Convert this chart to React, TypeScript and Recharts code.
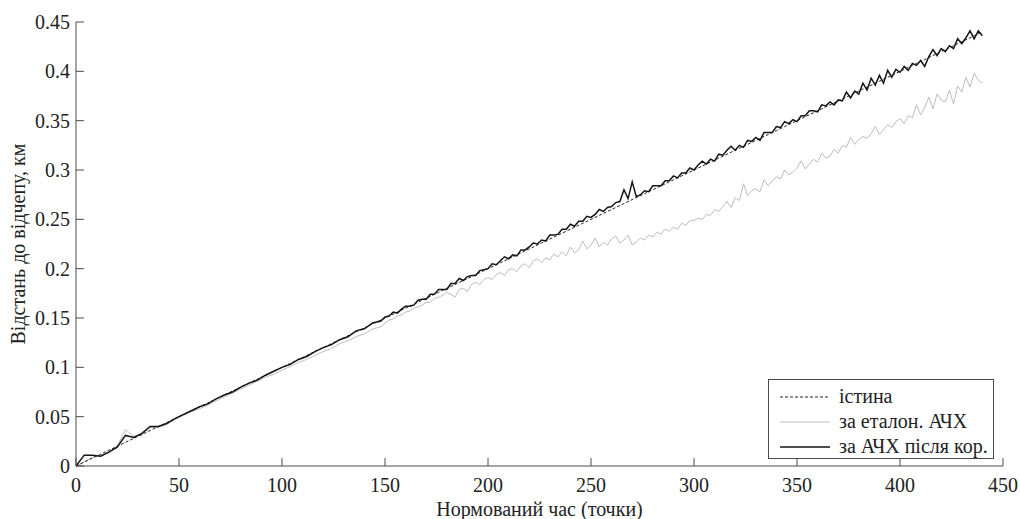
import { Legend, Line, LineChart, XAxis, YAxis, Label } from "recharts";

// normalised time (points): every 4th point at the start, every 2nd point after 150
const xs = [
  0, 4, 8, 12, 16, 20, 24, 28, 32, 36, 40, 44, 48, 52, 56, 60, 64, 68, 72, 76,
  80, 84, 88, 92, 96, 100, 104, 108, 112, 116, 120, 124, 128, 132, 136, 140, 144, 148,
  150, 152, 154, 156, 158, 160, 162, 164, 166, 168,
  170, 172, 174, 176, 178, 180, 182, 184, 186, 188,
  190, 192, 194, 196, 198, 200, 202, 204, 206, 208,
  210, 212, 214, 216, 218, 220, 222, 224, 226, 228,
  230, 232, 234, 236, 238, 240, 242, 244, 246, 248,
  250, 252, 254, 256, 258, 260, 262, 264, 266, 268,
  270, 272, 274, 276, 278, 280, 282, 284, 286, 288,
  290, 292, 294, 296, 298, 300, 302, 304, 306, 308,
  310, 312, 314, 316, 318, 320, 322, 324, 326, 328,
  330, 332, 334, 336, 338, 340, 342, 344, 346, 348,
  350, 352, 354, 356, 358, 360, 362, 364, 366, 368,
  370, 372, 374, 376, 378, 380, 382, 384, 386, 388,
  390, 392, 394, 396, 398, 400, 402, 404, 406, 408,
  410, 412, 414, 416, 418, 420, 422, 424, 426, 428,
  430, 432, 434, 436, 438, 440,
];

// істина
const truth = [
  0, 0.004, 0.008, 0.012, 0.016, 0.02, 0.024, 0.028, 0.032, 0.036, 0.04, 0.044, 0.048, 0.052, 0.056, 0.06, 0.064, 0.068, 0.072, 0.076,
  0.08, 0.084, 0.088, 0.092, 0.096, 0.1, 0.104, 0.108, 0.112, 0.116, 0.12, 0.124, 0.128, 0.132, 0.136, 0.14, 0.144, 0.148,
  0.15, 0.152, 0.154, 0.156, 0.158, 0.16, 0.162, 0.164, 0.166, 0.168,
  0.17, 0.172, 0.174, 0.176, 0.178, 0.18, 0.182, 0.184, 0.186, 0.188,
  0.19, 0.192, 0.194, 0.196, 0.198, 0.2, 0.202, 0.204, 0.206, 0.208,
  0.21, 0.212, 0.214, 0.216, 0.218, 0.22, 0.222, 0.224, 0.226, 0.228,
  0.23, 0.232, 0.234, 0.236, 0.238, 0.24, 0.242, 0.244, 0.246, 0.248,
  0.25, 0.252, 0.254, 0.256, 0.258, 0.26, 0.262, 0.264, 0.266, 0.268,
  0.27, 0.272, 0.274, 0.276, 0.278, 0.28, 0.282, 0.284, 0.286, 0.288,
  0.29, 0.292, 0.294, 0.296, 0.298, 0.3, 0.302, 0.304, 0.306, 0.308,
  0.31, 0.312, 0.314, 0.316, 0.318, 0.32, 0.322, 0.324, 0.326, 0.328,
  0.33, 0.332, 0.334, 0.336, 0.338, 0.34, 0.342, 0.344, 0.346, 0.348,
  0.35, 0.352, 0.354, 0.356, 0.358, 0.36, 0.362, 0.364, 0.366, 0.368,
  0.37, 0.372, 0.374, 0.376, 0.378, 0.38, 0.382, 0.384, 0.386, 0.388,
  0.39, 0.392, 0.394, 0.396, 0.398, 0.4, 0.402, 0.404, 0.406, 0.408,
  0.41, 0.412, 0.414, 0.416, 0.418, 0.42, 0.422, 0.424, 0.426, 0.428,
  0.43, 0.432, 0.434, 0.436, 0.438, 0.44,
];

// за еталон. АЧХ
const etalon = [
  0, 0.004, 0.009, 0.011, 0.014, 0.02, 0.037, 0.03, 0.031, 0.039, 0.039, 0.042, 0.047, 0.051, 0.055, 0.058, 0.062, 0.066, 0.07, 0.074,
  0.078, 0.082, 0.086, 0.09, 0.093, 0.097, 0.101, 0.105, 0.108, 0.112, 0.116, 0.119, 0.124, 0.127, 0.131, 0.134, 0.139, 0.141,
  0.145, 0.148, 0.149, 0.152, 0.153, 0.156, 0.157, 0.16, 0.161, 0.163,
  0.166, 0.166, 0.17, 0.171, 0.173, 0.176, 0.174, 0.171, 0.179, 0.18,
  0.177, 0.184, 0.186, 0.184, 0.189, 0.191, 0.189, 0.194, 0.196, 0.193,
  0.199, 0.2, 0.197, 0.203, 0.205, 0.201, 0.208, 0.21, 0.206, 0.211,
  0.209, 0.215, 0.212, 0.217, 0.213, 0.222, 0.216, 0.219, 0.228, 0.22,
  0.224, 0.231, 0.222, 0.227, 0.224, 0.23, 0.233, 0.226, 0.229, 0.234,
  0.224, 0.227, 0.231, 0.229, 0.234, 0.232, 0.237, 0.235, 0.24, 0.238,
  0.242, 0.24, 0.246, 0.244, 0.249, 0.249, 0.251, 0.25, 0.255, 0.254,
  0.26, 0.258, 0.263, 0.268, 0.262, 0.272, 0.269, 0.286, 0.274, 0.279,
  0.281, 0.278, 0.29, 0.284, 0.289, 0.293, 0.291, 0.3, 0.295, 0.298,
  0.302, 0.309, 0.301, 0.306, 0.311, 0.308, 0.317, 0.312, 0.314, 0.321,
  0.317, 0.325, 0.323, 0.333, 0.326, 0.331, 0.334, 0.332, 0.337, 0.344,
  0.336, 0.341, 0.346, 0.343, 0.349, 0.352, 0.347, 0.355, 0.353, 0.366,
  0.356, 0.363, 0.374, 0.362, 0.377, 0.371, 0.369, 0.381, 0.367, 0.385,
  0.379, 0.394, 0.384, 0.398, 0.391, 0.388,
];

// за АЧХ після кор.
const corrected = [
  0, 0.011, 0.011, 0.01, 0.014, 0.019, 0.031, 0.029, 0.033, 0.04, 0.04, 0.043, 0.048, 0.052, 0.056, 0.06, 0.063, 0.068, 0.072, 0.075,
  0.08, 0.084, 0.087, 0.092, 0.096, 0.1, 0.103, 0.108, 0.111, 0.116, 0.12, 0.123, 0.128, 0.131, 0.137, 0.139, 0.145, 0.147,
  0.151, 0.152, 0.156, 0.155, 0.159, 0.162, 0.162, 0.163, 0.168, 0.169,
  0.169, 0.174, 0.174, 0.179, 0.179, 0.179, 0.185, 0.185, 0.19, 0.188,
  0.192, 0.193, 0.193, 0.198, 0.199, 0.2, 0.205, 0.204, 0.208, 0.212,
  0.21, 0.214, 0.213, 0.219, 0.219, 0.222, 0.226, 0.225, 0.229, 0.228,
  0.234, 0.234, 0.235, 0.24, 0.24, 0.245, 0.243, 0.248, 0.248, 0.253,
  0.252, 0.255, 0.26, 0.258, 0.262, 0.263, 0.267, 0.268, 0.28, 0.271,
  0.288, 0.273, 0.275, 0.279, 0.278, 0.284, 0.284, 0.284, 0.289, 0.289,
  0.294, 0.292, 0.297, 0.297, 0.302, 0.3, 0.305, 0.309, 0.306, 0.311,
  0.309, 0.316, 0.315, 0.32, 0.324, 0.32, 0.325, 0.323, 0.33, 0.329,
  0.333, 0.33, 0.338, 0.338, 0.338, 0.344, 0.343, 0.349, 0.347, 0.351,
  0.349, 0.355, 0.355, 0.36, 0.36, 0.359, 0.366, 0.365, 0.369, 0.366,
  0.371, 0.37, 0.379, 0.373, 0.38, 0.377, 0.388, 0.381, 0.393, 0.386,
  0.396, 0.388, 0.401, 0.394, 0.402, 0.399, 0.405, 0.401, 0.408, 0.406,
  0.411, 0.405, 0.415, 0.422, 0.416, 0.423, 0.42, 0.426, 0.423, 0.433,
  0.428, 0.434, 0.441, 0.433, 0.441, 0.436,
];

const xTicks = [0, 50, 100, 150, 200, 250, 300, 350, 400, 450];
const yTicks = [0, 0.05, 0.1, 0.15, 0.2, 0.25, 0.3, 0.35, 0.4, 0.45];

const series = [
  { key: "truth", name: "істина", color: "#222", width: 1, dash: "3 2" },
  { key: "etalon", name: "за еталон. АЧХ", color: "#bdbdbd", width: 1, dash: undefined },
  { key: "corrected", name: "за АЧХ після кор.", color: "#151515", width: 1.5, dash: undefined },
];

const data = xs.map((x, i) => ({ x, truth: truth[i], etalon: etalon[i], corrected: corrected[i] }));

const font = "'Liberation Serif', 'DejaVu Serif', serif";
const axisColor = "#4a4a4a";
const tickStyle = { fontSize: 20, fill: "#222", fontFamily: font };

function LegendBox() {
  return (
    <div
      style={{
        width: 226,
        height: 80,
        border: `1px solid ${axisColor}`,
        background: "#fff",
        fontFamily: font,
        fontSize: 20,
        color: "#222",
        paddingTop: 4,
        boxSizing: "border-box",
      }}
    >
      {series.map((s) => (
        <div key={s.key} style={{ display: "flex", alignItems: "center", height: 25 }}>
          <svg width={70} height={10} style={{ flex: "none" }}>
            <line x1={11} x2={61} y1={5} y2={5} stroke={s.color} strokeWidth={s.width} strokeDasharray={s.dash} />
          </svg>
          <span style={{ whiteSpace: "nowrap" }}>{s.name}</span>
        </div>
      ))}
    </div>
  );
}

export default function App() {
  return (
    <div style={{ position: "absolute", left: 0, top: 0, width: 1020, height: 519, background: "#fff" }}>
      <LineChart width={1020} height={519} data={data} margin={{ top: 22, right: 17, left: 0, bottom: 0 }}>
        <XAxis
          dataKey="x"
          type="number"
          domain={[0, 450]}
          ticks={xTicks}
          height={53}
          tickSize={-8}
          tickMargin={20}
          tick={tickStyle}
          stroke={axisColor}
          interval={0}
        >
          <Label
            value="Нормований час (точки)"
            position="insideBottom"
            offset={3}
            style={{ fontSize: 20, fill: "#222", fontFamily: font }}
          />
        </XAxis>
        <XAxis
          xAxisId="top"
          orientation="top"
          type="number"
          domain={[0, 450]}
          ticks={xTicks}
          height={0}
          tickSize={-8}
          tickFormatter={() => ""}
          stroke={axisColor}
          interval={0}
        />
        <YAxis
          type="number"
          domain={[0, 0.45]}
          ticks={yTicks}
          width={76}
          tickSize={-8}
          tickMargin={14}
          tick={tickStyle}
          tickFormatter={(v: number) => String(v)}
          stroke={axisColor}
          interval={0}
        >
          <Label
            content={({ viewBox }: any) => {
              const cy = (viewBox?.y ?? 22) + (viewBox?.height ?? 444) / 2;
              return (
                <text
                  transform={`translate(25, ${cy}) rotate(-90)`}
                  textAnchor="middle"
                  style={{ fontSize: 20, fill: "#222", fontFamily: font }}
                >
                  Відстань до відчепу, км
                </text>
              );
            }}
          />
        </YAxis>
        <YAxis
          yAxisId="right"
          orientation="right"
          type="number"
          domain={[0, 0.45]}
          ticks={yTicks}
          width={0}
          tickSize={-8}
          tickFormatter={() => ""}
          stroke={axisColor}
          interval={0}
        />
        <Legend
          layout="vertical"
          align="center"
          verticalAlign="middle"
          content={() => <LegendBox />}
          wrapperStyle={{ position: "absolute", left: 768, top: 379, width: 226, height: 80 }}
        />
        <Line
          dataKey="etalon"
          name="за еталон. АЧХ"
          stroke="#bdbdbd"
          strokeWidth={1}
          dot={false}
          isAnimationActive={false}
        />
        <Line
          dataKey="truth"
          name="істина"
          stroke="#222"
          strokeWidth={1}
          strokeDasharray="3 2"
          dot={false}
          isAnimationActive={false}
        />
        <Line
          dataKey="corrected"
          name="за АЧХ після кор."
          stroke="#151515"
          strokeWidth={1.5}
          dot={false}
          isAnimationActive={false}
        />
      </LineChart>
    </div>
  );
}
